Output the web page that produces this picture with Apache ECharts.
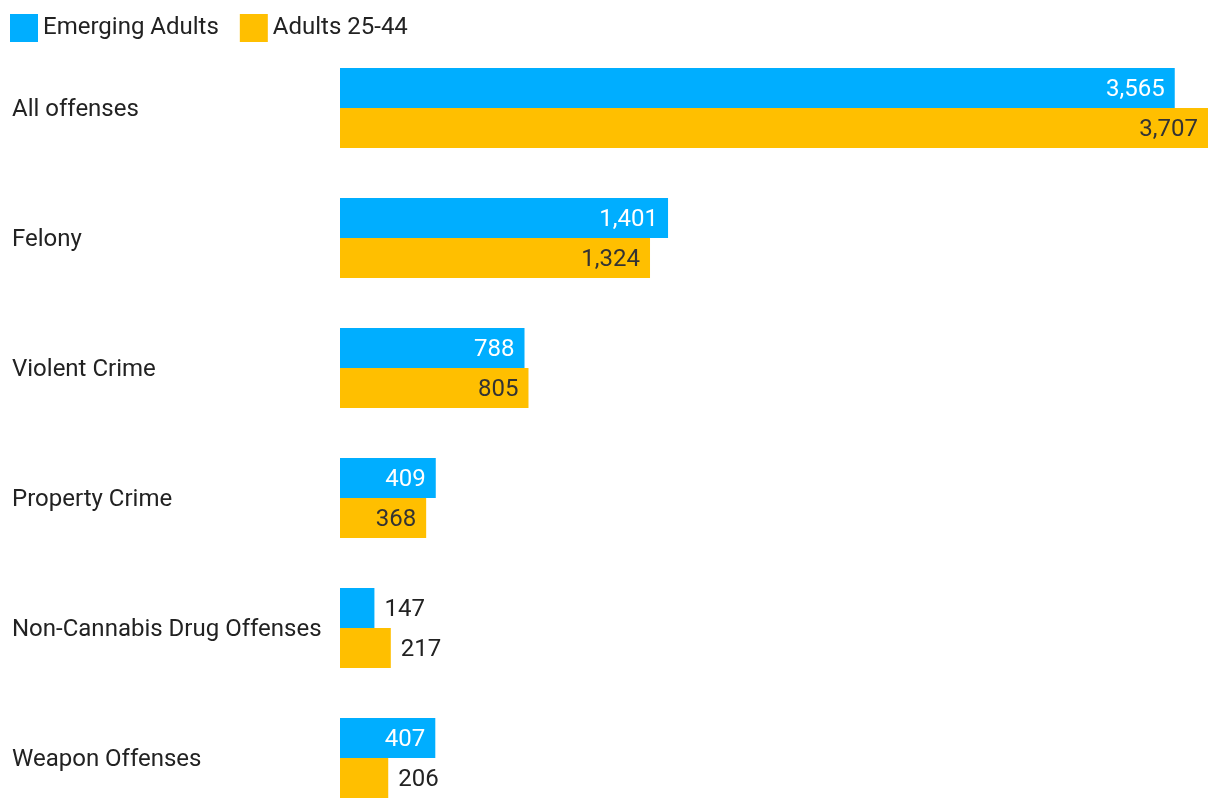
<!DOCTYPE html>
<html>
<head>
<meta charset="utf-8">
<script src="https://cdn.jsdelivr.net/npm/echarts@6/dist/echarts.min.js"></script>
<style>html,body{margin:0;padding:0;background:#fff}#c{width:1220px;height:810px}</style>
</head>
<body>
<div id="c"></div>
<script>
const categories = ["All offenses", "Felony", "Violent Crime", "Property Crime", "Non-Cannabis Drug Offenses", "Weapon Offenses"];
const emergingAdults = [3565, 1401, 788, 409, 147, 407];
const adults2544 = [3707, 1324, 805, 368, 217, 206];
const seriesNames = ["Emerging Adults", "Adults 25-44"];
const insideThreshold = 300;

function fmt(v) { return v.toLocaleString('en-US'); }
function makeData(vals, insideColor) {
  return vals.map(v => {
    const inside = v >= insideThreshold;
    return {
      value: v,
      label: {
        position: inside ? 'insideRight' : 'right',
        distance: 10,
        color: inside ? insideColor : '#222'
      }
    };
  });
}

const chart = echarts.init(document.getElementById('c'));
chart.setOption({
  animation: false,
  textStyle: { fontFamily: 'Roboto' },
  legend: {
    left: 10, top: 14, padding: 0, itemWidth: 28, itemHeight: 28, itemGap: 21, itemTextGap: 7,
    icon: 'rect',
    textStyle: { fontSize: 24, color: '#222', fontFamily: 'Roboto' },
    data: seriesNames
  },
  grid: { left: 340, right: 12, top: 108, bottom: 52 },
  xAxis: { type: 'value', min: 0, max: 3707, show: false },
  yAxis: {
    type: 'category', inverse: true, data: categories, boundaryGap: false,
    axisLine: { show: false }, axisTick: { show: false }, splitLine: { show: false },
    axisLabel: {
      align: 'left', margin: 328, color: '#222',
      formatter: v => '{c|' + v + '}',
      rich: { c: { fontSize: 24, color: '#222', fontFamily: 'Roboto', padding: [4, 0, 0, 0] } }
    }
  },
  series: [
    {
      name: seriesNames[0], type: 'bar', barWidth: 40, barGap: '0%',
      itemStyle: { color: '#00AEFF' },
      label: { show: true, fontSize: 24, fontFamily: 'Roboto', offset: [0, 1.5], formatter: p => fmt(p.value) },
      data: makeData(emergingAdults, '#fff')
    },
    {
      name: seriesNames[1], type: 'bar', barWidth: 40, barGap: '0%',
      itemStyle: { color: '#FFBF00' },
      label: { show: true, fontSize: 24, fontFamily: 'Roboto', offset: [0, 1.5], formatter: p => fmt(p.value) },
      data: makeData(adults2544, '#333')
    }
  ]
});
</script>
</body>
</html>
